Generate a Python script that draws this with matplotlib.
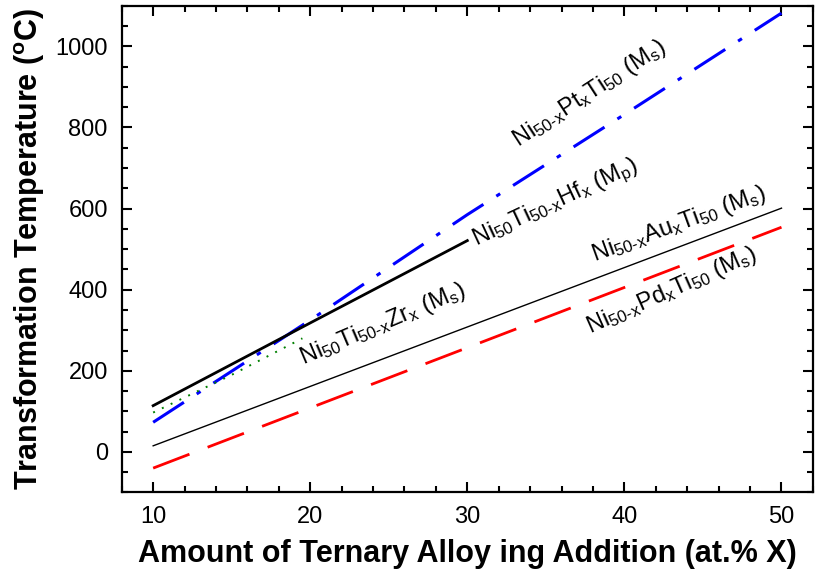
"""Transformation temperature vs ternary alloying addition for NiTi-based alloys."""

import matplotlib

matplotlib.use("Agg")
import matplotlib.pyplot as plt
from matplotlib.ticker import MultipleLocator

plt.rcParams["font.family"] = ["Liberation Sans", "DejaVu Sans"]
plt.rcParams["mathtext.fontset"] = "custom"
plt.rcParams["mathtext.rm"] = "Liberation Sans"
plt.rcParams["mathtext.it"] = "Liberation Sans:italic"
plt.rcParams["mathtext.bf"] = "Liberation Sans:bold"

# data (at.% X, deg C)
pt_x = [10, 20, 30, 40, 50]
pt_temp = [73, 325, 585, 832, 1082]

hf_x = [10, 20, 30]
hf_temp = [114, 318, 521]

au_x = [10, 50]
au_temp = [15, 601]

pd_x = [10, 50]
pd_temp = [-40, 554]

zr_x = [10, 15, 19.5]
zr_temp = [97, 190, 280]

labels = {
    "pt": r"Ni$_{\mathrm{50\text{-}x}}$Pt$_{\mathrm{x}}$Ti$_{\mathrm{50}}$ (M$_{\mathrm{s}}$)",
    "hf": r"Ni$_{\mathrm{50}}$Ti$_{\mathrm{50\text{-}x}}$Hf$_{\mathrm{x}}$ (M$_{\mathrm{p}}$)",
    "au": r"Ni$_{\mathrm{50\text{-}x}}$Au$_{\mathrm{x}}$Ti$_{\mathrm{50}}$ (M$_{\mathrm{s}}$)",
    "pd": r"Ni$_{\mathrm{50\text{-}x}}$Pd$_{\mathrm{x}}$Ti$_{\mathrm{50}}$ (M$_{\mathrm{s}}$)",
    "zr": r"Ni$_{\mathrm{50}}$Ti$_{\mathrm{50\text{-}x}}$Zr$_{\mathrm{x}}$ (M$_{\mathrm{s}}$)",
}

fig = plt.figure(figsize=(8.17, 5.78), dpi=100)
ax = fig.add_axes([0.149, 0.148, 0.846, 0.842])

ax.plot(pt_x, pt_temp, color="blue", lw=2.2, dashes=(12, 5, 1.5, 5))
ax.plot(zr_x, zr_temp, color="green", lw=1.4, dashes=(1, 4))
ax.plot(hf_x, hf_temp, color="black", lw=2.0)
ax.plot(au_x, au_temp, color="black", lw=1.0)
ax.plot(pd_x, pd_temp, color="red", lw=2.0, dashes=(14, 7))

txt = dict(fontsize=17, ha="center", va="center", rotation_mode="anchor")
ax.text(37.8, 883, labels["pt"], rotation=33, **txt)
ax.text(35.6, 612, labels["hf"], rotation=25, **txt)
ax.text(43.5, 562, labels["au"], rotation=20, **txt)
ax.text(43.0, 398, labels["pd"], rotation=24, **txt)
ax.text(24.6, 314, labels["zr"], rotation=23, **txt)

ax.set_xlim(8, 52)
ax.set_ylim(-100, 1100)
ax.xaxis.set_major_locator(MultipleLocator(10))
ax.xaxis.set_minor_locator(MultipleLocator(2))
ax.yaxis.set_major_locator(MultipleLocator(200))
ax.yaxis.set_minor_locator(MultipleLocator(50))
ax.tick_params(which="both", direction="in", top=True, right=True, width=1.5)
ax.tick_params(which="major", length=7, labelsize=17, pad=10)
ax.tick_params(which="minor", length=4)
for spine in ax.spines.values():
    spine.set_linewidth(1.6)

ax.set_xlabel("Amount of Ternary Alloy ing Addition (at.% X)",
              fontsize=22, fontweight="bold", labelpad=8)
ax.set_ylabel(r"Transformation Temperature ($^{\mathbf{o}}$C)",
              fontsize=22, fontweight="bold", labelpad=6)

fig.savefig("out.png", dpi=100)
